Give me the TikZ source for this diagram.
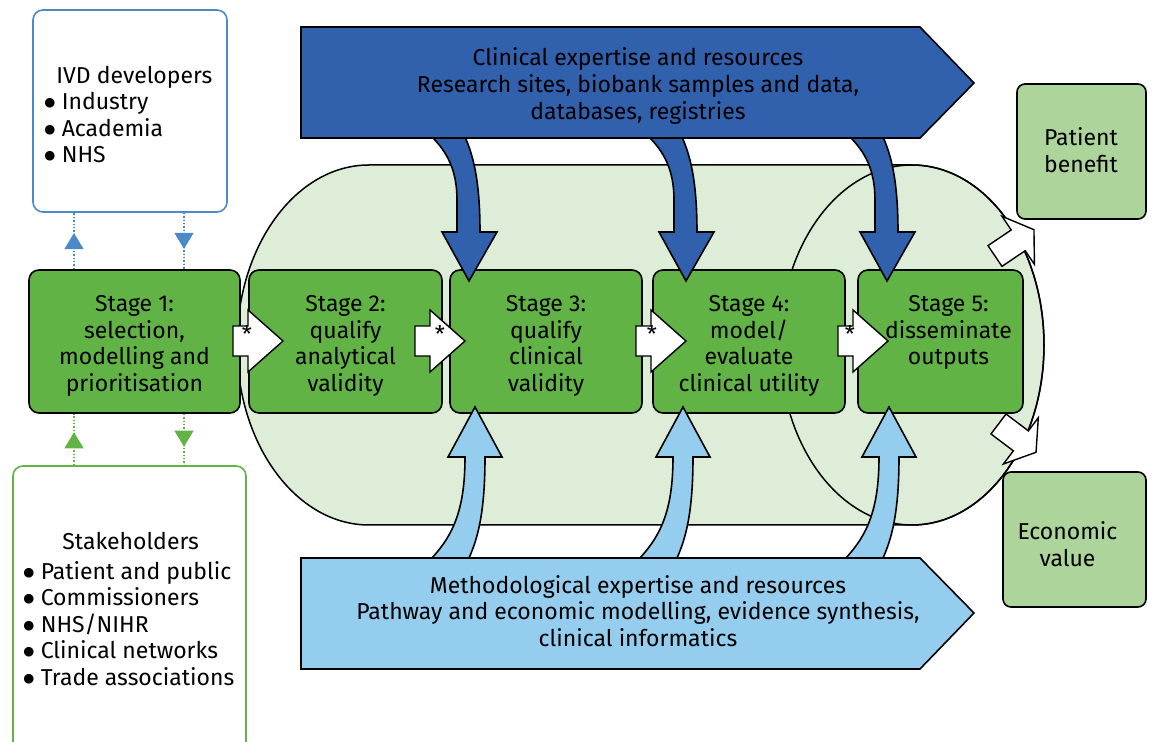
\documentclass[tikz,border=0pt]{standalone}
\usepackage{fontspec}
\setmainfont{Fira Sans}
\newfontfamily\symfont{DejaVu Sans}
\usetikzlibrary{positioning,arrows.meta,decorations.markings}

\definecolor{stagegreen}{HTML}{62B346}
\definecolor{palegreen}{HTML}{DEEDD8}
\definecolor{outgreen}{HTML}{ACD49B}
\definecolor{darkblue}{HTML}{3160AC}
\definecolor{lightblue}{HTML}{95CDEE}
\definecolor{ivdblue}{HTML}{4A8ACB}

\newcommand{\itm}{{\symfont\fontsize{6.3}{8}\selectfont\raisebox{1.5pt}{●}}\hspace{3.2pt}}

\tikzset{
  blockarr/.pic={% white arrow between two stages
    \draw[fill=white, line width=0.7pt, line join=miter]
      (0,-15) -- (15,-15) -- (15,-31) -- (50,0) -- (15,31) -- (15,15) -- (0,15) -- cycle;},
  outarr/.pic={% white arrow leaving the loop
    \draw[fill=white, line width=0.7pt, line join=miter]
      (0,-12.5) -- (28,-12.5) -- (28,-29) -- (47,0) -- (28,29) -- (28,12.5) -- (0,12.5) -- cycle;}
}

\begin{document}
\begin{tikzpicture}[x=0.5pt, y=-0.5pt,
    txt/.style={font=\fontsize{11.5}{13.3}\selectfont, align=center, inner sep=0pt},
    stagebox/.style={draw, line width=0.8pt, fill=stagegreen, rounded corners=5pt,
      minimum height=71.5pt, inner sep=0pt},
    stagetxt/.style={txt, anchor=north},
    outbox/.style={draw, line width=0.8pt, fill=outgreen, rounded corners=4pt,
      minimum height=67.5pt, inner sep=0pt},
    sidebox/.style={rounded corners=5pt, line width=0.8pt, fill=white, inner sep=0pt},
    listtxt/.style={txt, align=left, anchor=west},
    band/.style={line width=0.8pt, line join=miter},
    dotline/.style={densely dotted, line width=0.7pt, postaction={decorate},
      decoration={markings, mark=at position 0.64 with {\arrow{Triangle[width=9.5pt,length=8pt]}}}}]
\useasboundingbox (0,0) rectangle (1153,742);
\clip (0,0) rectangle (1153,742);

% loop behind the stages
\filldraw[fill=palegreen, line width=0.75pt] (369,165) -- (912,165)
  arc[start angle=-90, end angle=90, x radius=132, y radius=180] -- (369,525)
  arc[start angle=90, end angle=270, x radius=132, y radius=180] -- cycle;
\draw[line width=0.75pt] (912,345) ellipse [x radius=132, y radius=180];

% stages
\node[stagebox, minimum width=105.5pt] (s1) at (134.5,341.5) {};
\node[stagebox, minimum width=96.5pt] (s2) at (345.5,341.5) {};
\node[stagebox, minimum width=96pt] (s3) at (546,341.5) {};
\node[stagebox, minimum width=96pt] (s4) at (749,341.5) {};
\node[stagebox, minimum width=82.5pt] (s5) at (940.5,341.5) {};

% clinical arrows (down)
\foreach \t in {469,686,887}{
  \filldraw[band, fill=darkblue] (\t-37,137) .. controls (\t-22,152) and (\t-12,170) .. (\t-12,200)
    -- (\t-12,232) -- (\t-27,232) -- (\t,281) -- (\t+28,232) -- (\t+11,232)
    .. controls (\t+11,180) and (\t+4,155) .. (\t-4,137) -- cycle;
}
% methodological arrows (up)
\foreach \t in {475,683,889}{
  \filldraw[band, fill=lightblue] (\t-43,558) .. controls (\t-22,535) and (\t-10,510) .. (\t-10,457)
    -- (\t-27,457) -- (\t,407) -- (\t+27,457) -- (\t+10,457)
    .. controls (\t+10,515) and (\t+2,540) .. (\t-6,558) -- cycle;
}

% resource bands
\filldraw[band, fill=darkblue] (301,27) -- (920,27) -- (974,83) -- (920,138) -- (301,138) -- cycle;
\filldraw[band, fill=lightblue] (301,558) -- (920,558) -- (974,613) -- (920,669) -- (301,669) -- cycle;
\node[txt] (clin) at (638,86) {Clinical expertise and resources\\Research sites, biobank samples and data,\\databases, registries};
\node[txt] (meth) at (638,611) {Methodological expertise and resources\\Pathway and economic modelling, evidence synthesis,\\clinical informatics};

% arrows between stages
\pic at (233,341) {blockarr};
\pic at (415,341) {blockarr};
\pic at (636,341) {blockarr};
\pic at (838,341) {blockarr};
\node[txt] (st1) at (247,334) {*};
\node[txt] (st2) at (440,334) {*};
\node[txt] (st3) at (652,334) {*};
\node[txt] (st4) at (850,334) {*};

% stage texts
\node[stagetxt, below=13pt of s1.north] (t1) {Stage 1:\\selection,\\modelling and\\prioritisation};
\node[stagetxt, below=13pt of s2.north] (t2) {Stage 2:\\qualify\\analytical\\validity};
\node[stagetxt, below=13pt of s3.north] (t3) {Stage 3:\\qualify\\clinical\\validity};
\node[stagetxt, below=13pt of s4.north] (t4) {Stage 4:\\model/\\evaluate\\clinical utility};
\node[stagetxt, below=13pt of s5.north, xshift=4pt] (t5) {Stage 5:\\disseminate\\outputs};

% outcomes
\pic[rotate=34] at (995,256) {outarr};
\pic[rotate=-37] at (998.5,424) {outarr};
\node[outbox, minimum width=64.5pt] (patient) at (1081.5,151.5) {};
\node[txt] (patienttxt) at (1081,150) {Patient\\benefit};
\node[outbox, minimum width=71.5pt] (econ) at (1074.5,539.5) {};
\node[txt] (econtxt) at (1067.5,544) {Economic\\value};

% developers and stakeholders
\node[sidebox, draw=ivdblue, minimum width=97pt, minimum height=101pt] (ivd) at (130,111) {};
\node[listtxt] (ivdtxt) at (44,114.5) {\hspace*{6pt}IVD developers\\\itm Industry\\\itm Academia\\\itm NHS};
\node[sidebox, draw=stagegreen, minimum width=116.5pt, minimum height=147pt] (stake) at (129.5,613) {};
\node[listtxt] (staketxt) at (23,609) {\hspace*{19.5pt}Stakeholders\\[1.5pt]\itm Patient and public\\\itm Commissioners\\\itm NHS/NIHR\\\itm Clinical networks\\\itm Trade associations};

\coordinate (lx) at (74,0);
\coordinate (rx) at (184,0);
\draw[dotline, ivdblue, fill=ivdblue] (s1.north -| lx) -- (ivd.south -| lx);
\draw[dotline, ivdblue, fill=ivdblue] (ivd.south -| rx) -- (s1.north -| rx);
\draw[dotline, stagegreen, fill=stagegreen] (stake.north -| lx) -- (s1.south -| lx);
\draw[dotline, stagegreen, fill=stagegreen] (s1.south -| rx) -- (stake.north -| rx);
\end{tikzpicture}
\end{document}
